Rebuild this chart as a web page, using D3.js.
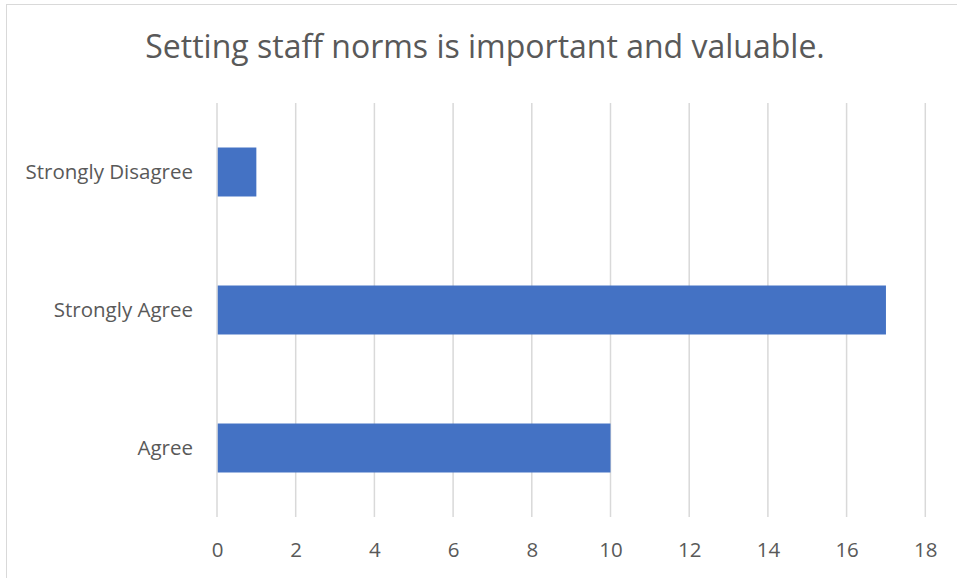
<!DOCTYPE html>
<html>
<head>
<meta charset="utf-8">
<script src="https://cdn.jsdelivr.net/npm/d3@7"></script>
<style>
  html, body { margin: 0; padding: 0; background: #fff; }
  svg { display: block; }
  text { font-family: "Open Sans", sans-serif; fill: #595959; }
</style>
</head>
<body>
<svg id="chart" width="957" height="578"></svg>
<script>
// Survey responses
const categories = ["Strongly Disagree", "Strongly Agree", "Agree"];
const counts = [1, 17, 10];
const xTicks = [0, 2, 4, 6, 8, 10, 12, 14, 16, 18];
const title = "Setting staff norms is important and valuable.";

const svg = d3.select("#chart");
const W = 957, H = 578;
const plot = { left: 217, right: 925.3, top: 103, bottom: 517 };
const FONT = "'Open Sans', sans-serif";

// Chart frame
svg.append("rect")
  .attr("x", 6.5).attr("y", 4.5)
  .attr("width", W + 10).attr("height", H + 10)
  .attr("fill", "#fff")
  .attr("stroke", "#d9d9d9").attr("stroke-width", 1);

// Title
svg.append("text")
  .attr("x", 485).attr("y", 58)
  .attr("text-anchor", "middle")
  .attr("font-size", 32)
  .text(title);

const x = d3.scaleLinear().domain([0, 18]).range([plot.left, plot.right]);
const y = d3.scaleBand()
  .domain(categories)
  .range([plot.top, plot.bottom])
  .paddingInner(0.645)
  .paddingOuter(0.3225);

// Vertical gridlines
svg.append("g")
  .selectAll("line")
  .data(xTicks)
  .join("line")
  .attr("x1", d => x(d)).attr("x2", d => x(d))
  .attr("y1", plot.top).attr("y2", plot.bottom)
  .attr("stroke", "#d9d9d9").attr("stroke-width", 1.5);

// Bars
const data = categories.map((c, i) => ({ c, v: counts[i] }));
svg.append("g")
  .selectAll("rect")
  .data(data)
  .join("rect")
  .attr("x", x(0) + 0.75)
  .attr("y", d => y(d.c))
  .attr("width", d => x(d.v) - x(0) - 0.75)
  .attr("height", y.bandwidth())
  .attr("fill", "#4472C4");

// X axis labels
const xAxis = d3.axisBottom(x).tickValues(xTicks).tickSize(0).tickPadding(0);
const gx = svg.append("g")
  .attr("transform", `translate(0, ${plot.bottom})`)
  .call(xAxis);
gx.select(".domain").remove();
gx.selectAll("text")
  .attr("y", 39.5)
  .attr("dy", null)
  .attr("font-size", 20.5)
  .style("font-family", FONT)
  .attr("fill", "#595959");

// Category labels
const yAxis = d3.axisLeft(y).tickSize(0).tickPadding(0);
const gy = svg.append("g")
  .attr("transform", `translate(${plot.left - 24}, 0)`)
  .call(yAxis);
gy.select(".domain").remove();
gy.selectAll("text")
  .attr("dy", "0.35em")
  .attr("font-size", 20.5)
  .style("font-family", FONT)
  .attr("fill", "#595959");
</script>
</body>
</html>
